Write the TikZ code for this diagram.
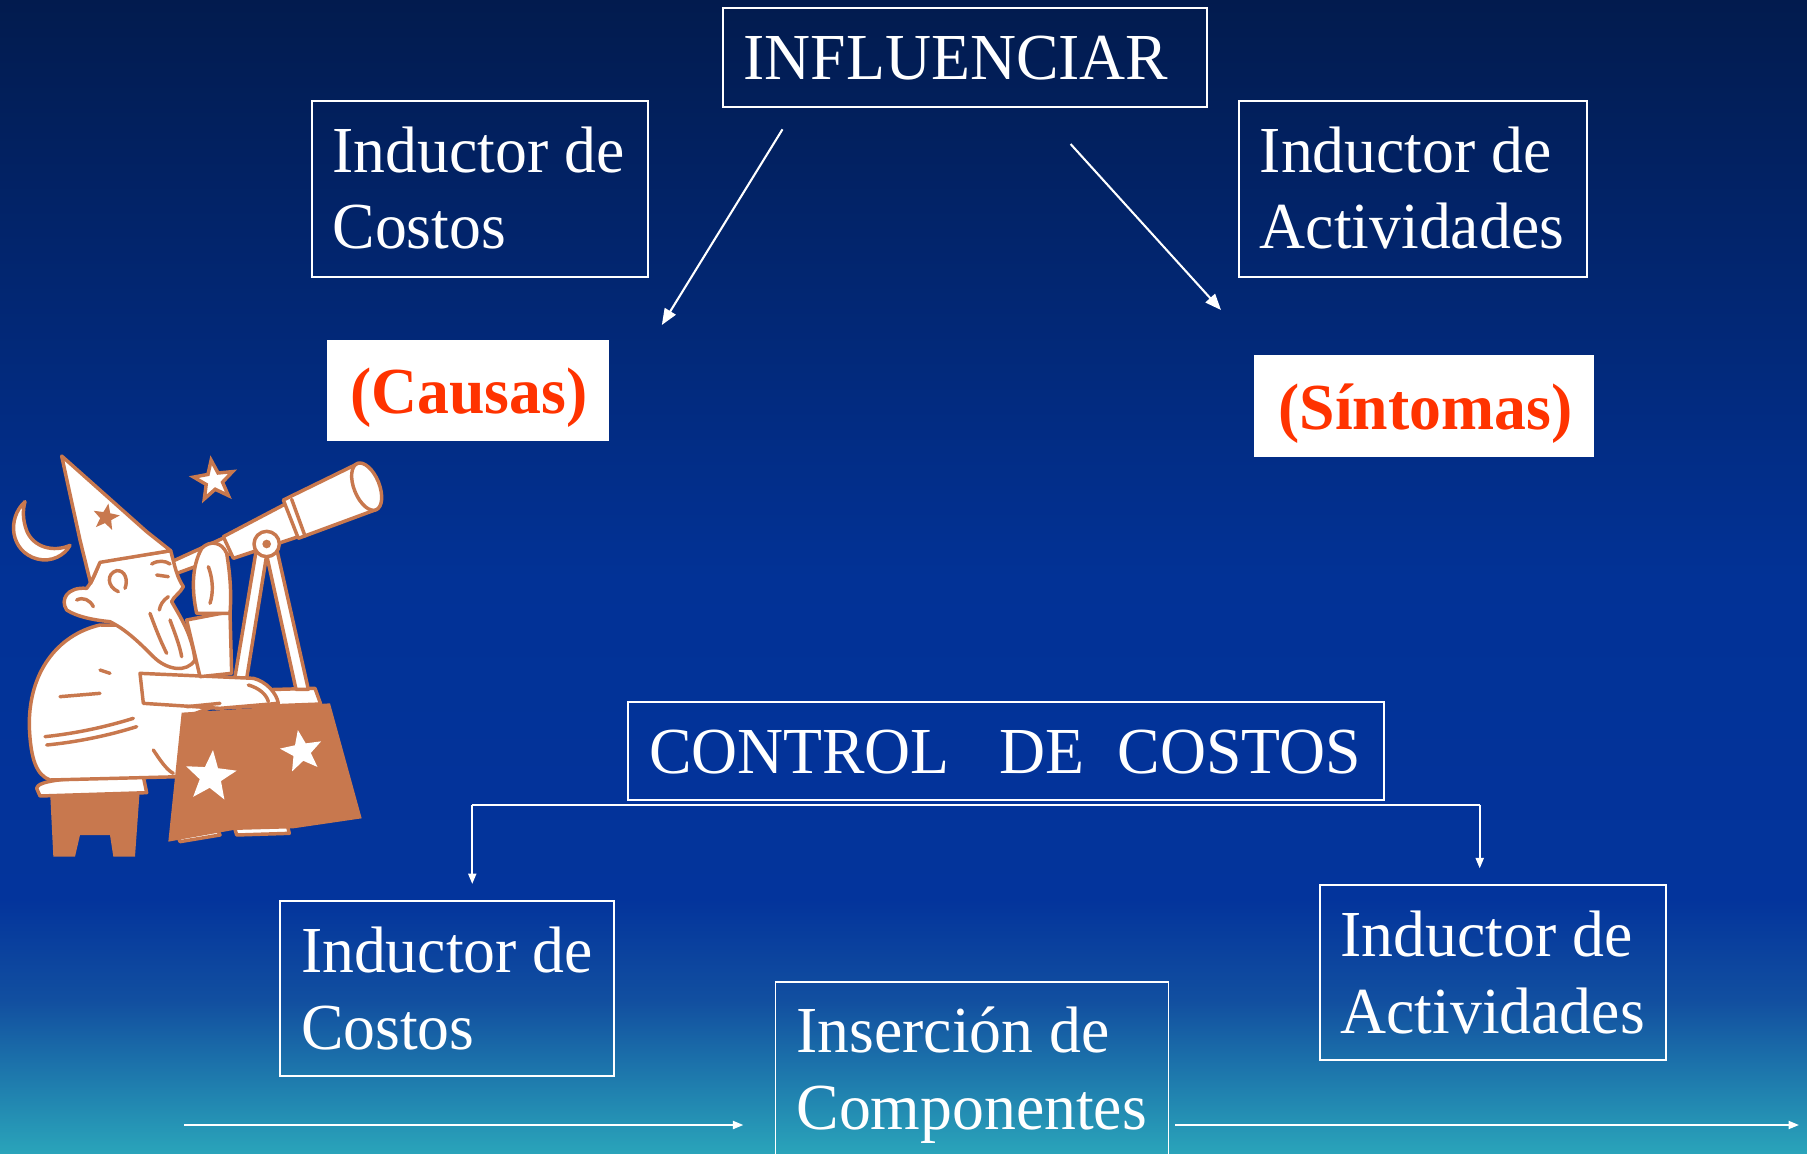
\documentclass[tikz,border=0pt]{standalone}
\usepackage{fontspec}
\setmainfont{Liberation Serif}[FakeStretch=0.97]
\usetikzlibrary{arrows.meta}

\definecolor{bgtop}{RGB}{2,27,78}
\definecolor{bgmid}{RGB}{2,50,150}
\definecolor{bgmidlow}{RGB}{3,52,156}
\definecolor{bgturn}{RGB}{18,80,160}
\definecolor{bgbot}{RGB}{42,164,186}
\definecolor{causered}{RGB}{255,51,0}
\definecolor{wizorange}{RGB}{200,120,78}

\tikzset{
  wframe/.style={draw=white, line width=1.8pt, inner sep=0pt},
  boxtext/.style={text=white, anchor=base west, inner sep=0pt, align=left,
                  font=\fontsize{57}{66.5}\selectfont},
  redtag/.style={fill=white, draw=none, inner sep=0pt},
  redtext/.style={text=causered, anchor=base west, inner sep=0pt,
                  font=\fontsize{57}{66.5}\selectfont\bfseries},
  link/.style={white, line width=1.8pt, -{Triangle[length=14pt,width=11pt]}},
  thinlink/.style={white, line width=1.5pt, -{Triangle[length=9pt,width=7pt]}},
  wiz/.style={fill=white, draw=wizorange, line width=3pt, line join=round},
  wizline/.style={draw=wizorange, line width=3pt, line cap=round},
  pics/fivestar/.style={code={
    \path[pic actions] (-90:1) \foreach \k in {0,...,4}{ -- ({-54+72*\k}:0.42) -- ({-18+72*\k}:1)} -- cycle;}},
}

\begin{document}
\begin{tikzpicture}[x=1pt, y=-1pt]
\useasboundingbox (0,0) rectangle (1568,1001);

% background gradient
\shade[top color=bgtop, bottom color=bgmid] (0,0) rectangle (1568,501);
\shade[top color=bgmid, bottom color=bgmidlow] (0,500) rectangle (1568,781);
\shade[top color=bgmidlow, bottom color=bgturn] (0,780) rectangle (1568,871);
\shade[top color=bgturn, bottom color=bgbot] (0,870) rectangle (1568,1001);

% astronomer with telescope
\begin{scope}[shift={(0,381.8)}, scale=0.28925]
  % moon and star
  \path[wiz] (75,185) .. controls (20,235) and (30,335) .. (112,357)
     .. controls (155,368) and (195,345) .. (210,316)
     .. controls (160,338) and (100,322) .. (80,272)
     .. controls (68,240) and (68,210) .. (75,185) -- cycle;
  \pic[transform shape, scale=62, rotate=8, fill=white, draw=wizorange, line width=3pt] at (642,122) {fivestar};
  % stool
  \path[fill=wizorange] (150,1050) -- (420,1040) -- (405,1250) -- (340,1250) -- (330,1185)
     -- (240,1185) -- (225,1250) -- (160,1250) -- cycle;
  \path[wiz] (110,1045) .. controls (112,1022) and (200,1015) .. (300,1012) -- (430,1010)
     -- (440,1058) -- (120,1068) -- cycle;
  % body
  \path[wiz] (300,555) .. controls (170,585) and (85,700) .. (88,860)
     .. controls (92,960) and (110,1005) .. (150,1020) -- (540,1010) -- (560,830)
     -- (640,800) -- (660,700) -- (640,560) -- cycle;
  \draw[wizline] (135,890) .. controls (230,880) and (320,860) .. (400,835);
  \draw[wizline] (140,915) .. controls (240,905) and (330,885) .. (410,860);
  \draw[wizline] (180,770) -- (300,760);
  \draw[wizline] (300,690) -- (330,700);
  \draw[wizline] (460,930) .. controls (480,960) and (500,990) .. (520,1000);
  % feet
  \path[wiz] (520,1150) -- (640,1140) -- (660,1185) -- (540,1205) -- cycle;
  \path[wiz] (700,1150) -- (860,1148) -- (868,1180) -- (710,1185) -- cycle;
  % table
  \path[fill=wizorange] (545,818) -- (990,790) -- (1085,1135) -- (880,1165) -- (700,1170)
     -- (505,1205) -- cycle;
  \pic[transform shape, scale=80, rotate=-5, fill=white] at (632,1010) {fivestar};
  \pic[transform shape, scale=66, rotate=10, fill=white] at (905,935) {fivestar};
  % tripod base and legs
  \path[wiz] (690,752) -- (945,745) -- (962,792) -- (700,802) -- cycle;
  \path[wiz] (768,335) -- (800,345) -- (738,728) -- (702,728) -- cycle;
  \path[wiz] (800,345) -- (832,335) -- (925,748) -- (888,748) -- cycle;
  % telescope
  \path[wiz] (515,365) -- (690,285) -- (708,335) -- (525,402) -- cycle;
  \path[wiz] (670,290) -- (860,190) -- (895,290) -- (700,355) -- cycle;
  \path[wiz] (850,180) -- (1075,70) -- (1125,210) -- (895,295) -- cycle;
  \path[wiz, rotate around={22:(1100,140)}] (1100,140) ellipse [x radius=38, y radius=75];
  \draw[wizline] (875,178) -- (915,288);
  \path[wiz] (800,312) circle [radius=38];
  \fill[wizorange] (800,312) circle [radius=13];
  % arm resting on the table
  \path[wiz] (420,700) -- (760,715) .. controls (800,725) and (830,760) .. (835,790)
     -- (660,805) -- (430,790) -- cycle;
  \draw[wizline] (745,735) .. controls (780,745) and (800,765) .. (805,785);
  \draw[wizline] (560,800) -- (660,790);
  % raised arm and hand
  \path[wiz] (560,540) -- (690,515) -- (695,700) -- (600,710) -- cycle;
  \path[wiz] (590,520) .. controls (575,450) and (575,380) .. (605,325)
     .. controls (630,300) and (665,305) .. (680,340)
     .. controls (690,400) and (695,460) .. (690,520) -- cycle;
  \draw[wizline] (625,380) .. controls (640,420) and (640,460) .. (630,490);
  % head and beard
  \path[wiz] (300,365) -- (512,332) .. controls (525,380) and (530,410) .. (550,440)
     .. controls (540,460) and (520,470) .. (515,485)
     .. controls (540,530) and (575,580) .. (585,660)
     .. controls (560,700) and (500,690) .. (460,650)
     .. controls (420,610) and (380,570) .. (330,545)
     .. controls (280,540) and (230,530) .. (200,510)
     .. controls (180,480) and (200,440) .. (260,445)
     .. controls (280,420) and (290,390) .. (300,365) -- cycle;
  \draw[wizline] (355,455) .. controls (320,440) and (320,400) .. (350,392)
     .. controls (375,390) and (385,420) .. (375,445);
  \draw[wizline] (455,372) .. controls (475,360) and (495,362) .. (510,372);
  \draw[wizline] (470,405) -- (505,410);
  \draw[wizline] (505,470) .. controls (490,480) and (480,495) .. (478,510);
  \draw[wizline] (450,520) .. controls (465,560) and (480,600) .. (500,640);
  \draw[wizline] (510,540) .. controls (525,580) and (540,620) .. (545,650);
  \draw[wizline] (230,480) .. controls (250,470) and (270,480) .. (280,500);
  % hat
  \path[wiz] (185,48) -- (440,275) -- (512,332) -- (300,367) -- (272,430) -- (240,300) -- cycle;
  \pic[transform shape, scale=42, rotate=-10, fill=wizorange] at (318,232) {fivestar};
\end{scope}

% upper part
\node[wframe, minimum width=420pt, minimum height=86pt] (infl) at (837,50) {};
\node[boxtext] (infl-t) at (645,69.4) {INFLUENCIAR};

\node[wframe, minimum width=291.5pt, minimum height=152.6pt] (costA) at (416.25,163.7) {};
\node[boxtext] (costA-t) at (288.4,216) {Inductor de\\Costos};

\node[wframe, minimum width=302pt, minimum height=152.6pt] (actA) at (1226,163.7) {};
\node[boxtext] (actA-t) at (1093,216) {Inductor de\\Actividades};

\node[redtag, minimum width=245.2pt, minimum height=87.4pt] (causas) at (406.1,338.7) {};
\node[redtext] (causas-t) at (303.7,358.7) {(Causas)};

\node[redtag, minimum width=294.8pt, minimum height=88.3pt] (sintomas) at (1235.8,352.15) {};
\node[redtext] (sintomas-t) at (1109.3,372.5) {(Síntomas)};

\coordinate (inflL) at (679,112.2);
\coordinate (inflLend) at (574.3,282);
\coordinate (inflR) at (929,125);
\coordinate (inflRend) at (1059.5,269);
\draw[link] (inflL) -- (inflLend);
\draw[link] (inflR) -- (inflRend);

% lower part
\node[wframe, minimum width=655.9pt, minimum height=85.3pt] (control) at (872.65,651.55) {};
\node[boxtext] (control-t) at (563,671.5) {CONTROL\hspace{43pt}DE\hspace{29pt}COSTOS};

\node[wframe, minimum width=290pt, minimum height=152pt] (costB) at (388,858) {};
\node[boxtext] (costB-t) at (261,910.6) {Inductor de\\Costos};

\node[wframe, minimum width=301pt, minimum height=152pt] (actB) at (1295.5,844) {};
\node[boxtext] (actB-t) at (1163,896.6) {Inductor de\\Actividades};

\node[wframe, line width=1.2pt, minimum width=341pt, minimum height=160pt] (ins) at (843.5,932) {};
\node[boxtext] (ins-t) at (691,980) {Inserción de\\Componentes};

\coordinate (barL) at (409.8,698.5);
\coordinate (barR) at (1284,698.5);
\draw[white, line width=1.5pt] (barL) -- (barR);
\draw[thinlink] (barL) -- (barL |- 0,767);
\draw[thinlink] (barR) -- (barR |- 0,753.5);

\coordinate (flowA) at (160,976.2);
\coordinate (flowAend) at (645,976.2);
\coordinate (flowB) at (1020,976.2);
\coordinate (flowBend) at (1561,976.2);
\draw[thinlink] (flowA) -- (flowAend);
\draw[thinlink] (flowB) -- (flowBend);
\end{tikzpicture}
\end{document}
